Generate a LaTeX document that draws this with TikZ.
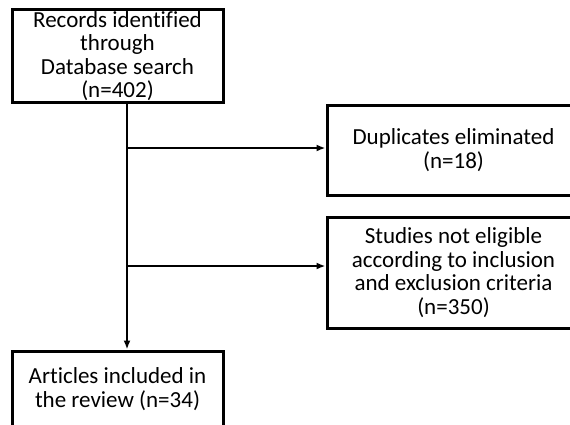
\documentclass[tikz,border=0pt]{standalone}
\usepackage{fontspec}
\setmainfont{Carlito}[Ligatures=NoCommon]
\usetikzlibrary{arrows.meta, positioning}

\begin{document}
\begin{tikzpicture}[
    x=1pt, y=-1pt,
    font=\fontsize{23}{23.5}\selectfont,
    box/.style={rectangle, draw=black, line width=3pt, align=center, inner sep=2pt},
    link/.style={-{Latex[length=9pt, width=7pt]}, line width=1.8pt}
]
    \clip (0,0) rectangle (570,424);

    % Records found
    \node[box, minimum width=211pt, minimum height=90pt] (records) at (117.5,56)
        {Records identified\\through\\Database search\\(n=402)};

    % Duplicates
    \node[box, minimum width=253pt, minimum height=90pt] (dup) at (453.5,150)
        {Duplicates eliminated\\(n=18)};

    % Not eligible
    \node[box, minimum width=253pt, minimum height=111pt] (noteligible) at (453.5,272.5)
        {Studies not eligible\\according to inclusion\\and exclusion criteria\\(n=350)};

    % Included
    \node[box, minimum width=211pt, minimum height=76pt] (articles) at (117.5,389)
        {Articles included in\\the review (n=34)};

    % Branch points on the main line
    \coordinate (top) at ([xshift=9.5pt]records.south);
    \coordinate (b1) at (127,148);
    \coordinate (b2) at (127,266);

    % Main line
    \draw[link] (top) -- (top |- articles.north);

    % Exclusions
    \draw[link] (b1) -- (b1 -| dup.west);
    \draw[link] (b2) -- (b2 -| noteligible.west);
\end{tikzpicture}
\end{document}
